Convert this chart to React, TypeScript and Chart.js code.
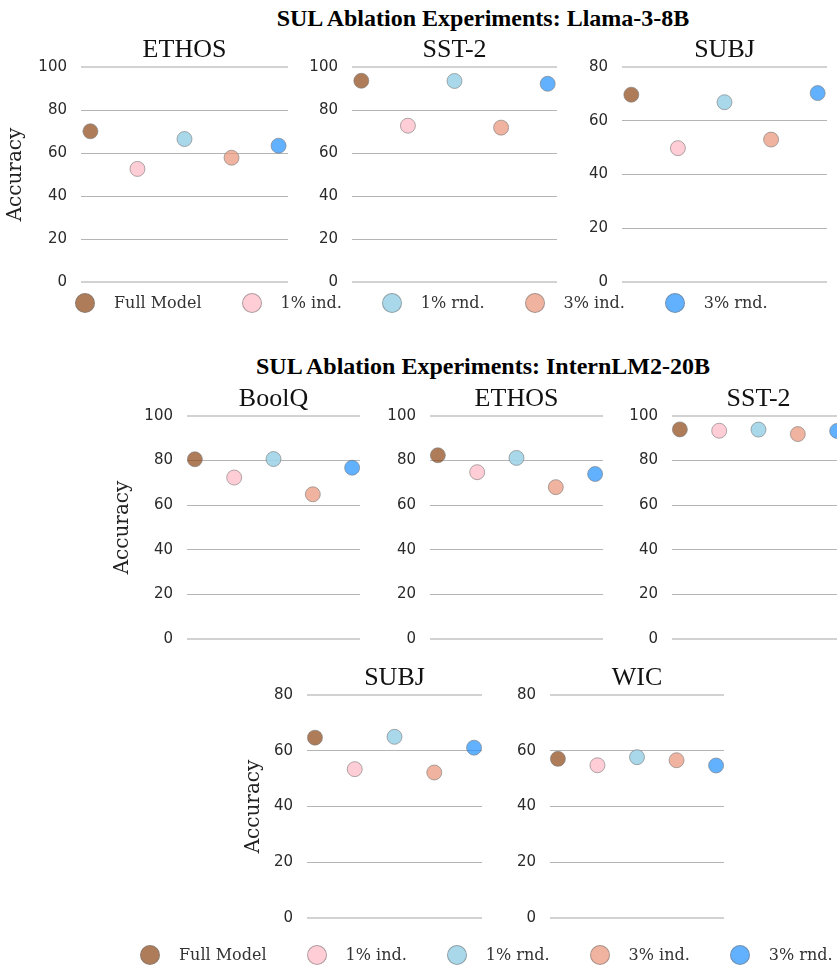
import React, { useEffect, useRef } from "react";
import { Chart, registerables } from "chart.js";

Chart.register(...registerables);

// ---------- data ----------
const methods = ["Full Model", "1% ind.", "1% rnd.", "3% ind.", "3% rnd."];

const llamaTitle = "SUL Ablation Experiments: Llama-3-8B";
const internTitle = "SUL Ablation Experiments: InternLM2-20B";

const llamaEthos = [70.1, 52.6, 66.5, 57.8, 63.4];
const llamaSst2 = [93.6, 72.7, 93.5, 71.8, 92.2];
const llamaSubj = [69.7, 49.8, 66.9, 53.0, 70.3];

const internBoolq = [80.6, 72.4, 80.7, 64.9, 76.8];
const internEthos = [82.4, 74.8, 81.2, 68.1, 74.0];
const internSst2 = [94.0, 93.4, 93.9, 91.9, 93.3];
const internSubj = [64.7, 53.4, 65.0, 52.2, 61.1];
const internWic = [57.1, 54.8, 57.7, 56.6, 54.7];

const ticks100 = [0, 20, 40, 60, 80, 100];
const ticks80 = [0, 20, 40, 60, 80];

const panelTitles = ["ETHOS", "SST-2", "SUBJ", "BoolQ", "ETHOS", "SST-2", "SUBJ", "WIC"];
const panelValues = [llamaEthos, llamaSst2, llamaSubj, internBoolq, internEthos, internSst2, internSubj, internWic];
const panelTicks = [ticks100, ticks100, ticks80, ticks100, ticks100, ticks100, ticks80, ticks80];
const yAxisLabel = "Accuracy";

// ---------- styles / layout ----------
const methodColors = [
  "rgba(139,69,19,0.7)",
  "rgba(255,192,203,0.8)",
  "rgba(160,212,232,0.9)",
  "rgba(233,150,122,0.72)",
  "rgba(30,144,255,0.7)",
];
const edgeColor = "rgba(120,120,120,0.6)";

type Layout = { x0: number; x1: number; top: number; bottom: number; yLabelX?: number };
const panelLayout: Layout[] = [
  { x0: 81, x1: 288, top: 67, bottom: 282, yLabelX: 18 },
  { x0: 352, x1: 557, top: 67, bottom: 282 },
  { x0: 622, x1: 827, top: 67, bottom: 282 },
  { x0: 187, x1: 360, top: 416, bottom: 639, yLabelX: 125 },
  { x0: 430, x1: 603, top: 416, bottom: 639 },
  { x0: 672, x1: 845, top: 416, bottom: 639 },
  { x0: 307, x1: 482, top: 695, bottom: 918, yLabelX: 256 },
  { x0: 550, x1: 724, top: 695, bottom: 918 },
];

function Subplot({ title, values, ticks, layout }: { title: string; values: number[]; ticks: number[]; layout: Layout }) {
  const ref = useRef<HTMLCanvasElement>(null);
  const hasLabel = layout.yLabelX !== undefined;
  const axisW = hasLabel ? layout.x0 - Math.round((layout.yLabelX as number) - 18) : 60;
  const titleH = 32;
  const padBottom = 30;
  const padRight = 2;
  const left = layout.x0 - axisW;
  const top = layout.top - titleH;
  const w = axisW + (layout.x1 - layout.x0) + padRight;
  const h = titleH + (layout.bottom - layout.top) + padBottom;

  useEffect(() => {
    const ymax = ticks[ticks.length - 1];
    const chart = new Chart(ref.current as HTMLCanvasElement, {
      type: "scatter",
      data: {
        datasets: methods.map((m, i) => ({
          label: m,
          data: [{ x: i, y: values[i] }],
          backgroundColor: methodColors[i],
          borderColor: edgeColor,
          borderWidth: 1,
          pointRadius: 7.5,
          pointHoverRadius: 7.5,
          clip: false as any,
        })),
      },
      options: {
        responsive: false,
        animation: false,
        events: [],
        layout: { autoPadding: false, padding: { left: 0, top: 0, right: padRight, bottom: padBottom } },
        plugins: {
          legend: { display: false },
          tooltip: { enabled: false },
          title: {
            display: true,
            text: title,
            fullSize: false,
            color: "#111",
            font: { family: "'Liberation Serif', serif", size: 26, weight: "normal" as any },
            padding: { top: 0, bottom: 0.8 },
          },
        },
        scales: {
          x: { type: "linear", min: -0.2, max: 4.2, display: false },
          y: {
            type: "linear",
            min: 0,
            max: ymax,
            afterBuildTicks: (s: any) => {
              s.ticks = ticks.map((v) => ({ value: v }));
            },
            afterFit: (s: any) => {
              s.width = axisW;
            },
            ticks: {
              font: { family: "'DejaVu Sans', sans-serif", size: 15 },
              color: "#2a2a2a",
              padding: 14,
            },
            grid: {
              drawTicks: false,
              color: (ctx: any) =>
                ctx.tick && (ctx.tick.value === 0 || ctx.tick.value === ymax) ? "#d2d2d2" : "#b4b4b4",
              lineWidth: (ctx: any) =>
                ctx.tick && (ctx.tick.value === 0 || ctx.tick.value === ymax) ? 2 : 1,
            },
            border: { display: false },
            title: hasLabel
              ? {
                  display: true,
                  text: yAxisLabel,
                  color: "#222",
                  font: { family: "'DejaVu Serif', serif", size: 20 },
                  padding: { top: 4, bottom: 0 },
                }
              : { display: false },
          },
        },
      } as any,
    });
    return () => chart.destroy();
  }, []);

  return (
    <canvas
      ref={ref}
      width={w}
      height={h}
      style={{ position: "absolute", left, top, width: w, height: h }}
    />
  );
}

function Legend({ left, centerY }: { left: number; centerY: number }) {
  return (
    <div
      style={{
        position: "absolute",
        left,
        top: centerY - 10,
        height: 20,
        display: "flex",
        alignItems: "center",
        fontFamily: "'DejaVu Serif', serif",
        fontSize: 16,
        color: "#333",
        whiteSpace: "nowrap",
      }}
    >
      {methods.map((m, i) => (
        <div key={m} style={{ display: "flex", alignItems: "center", marginRight: i < methods.length - 1 ? 40 : 0 }}>
          <span
            style={{
              width: 20,
              height: 20,
              boxSizing: "border-box",
              borderRadius: "50%",
              background: methodColors[i],
              border: `1px solid ${edgeColor}`,
              display: "inline-block",
            }}
          />
          <span style={{ marginLeft: 19, lineHeight: "20px" }}>{m}</span>
        </div>
      ))}
    </div>
  );
}

function SupTitle({ text, top }: { text: string; top: number }) {
  return (
    <div
      style={{
        position: "absolute",
        left: 0,
        top,
        width: 966,
        textAlign: "center",
        fontFamily: "'Liberation Serif', serif",
        fontWeight: "bold",
        fontSize: 24,
        lineHeight: "24px",
        color: "#000",
        whiteSpace: "nowrap",
      }}
    >
      {text}
    </div>
  );
}

export default function App() {
  return (
    <div
      style={{
        position: "absolute",
        left: 0,
        top: 0,
        width: 837,
        height: 966,
        overflow: "hidden",
        background: "#fff",
      }}
    >
      <SupTitle text={llamaTitle} top={6} />
      <SupTitle text={internTitle} top={354} />
      {panelTitles.map((t, i) => (
        <Subplot key={i} title={t} values={panelValues[i]} ticks={panelTicks[i]} layout={panelLayout[i]} />
      ))}
      <Legend left={75} centerY={303} />
      <Legend left={140} centerY={955} />
    </div>
  );
}
